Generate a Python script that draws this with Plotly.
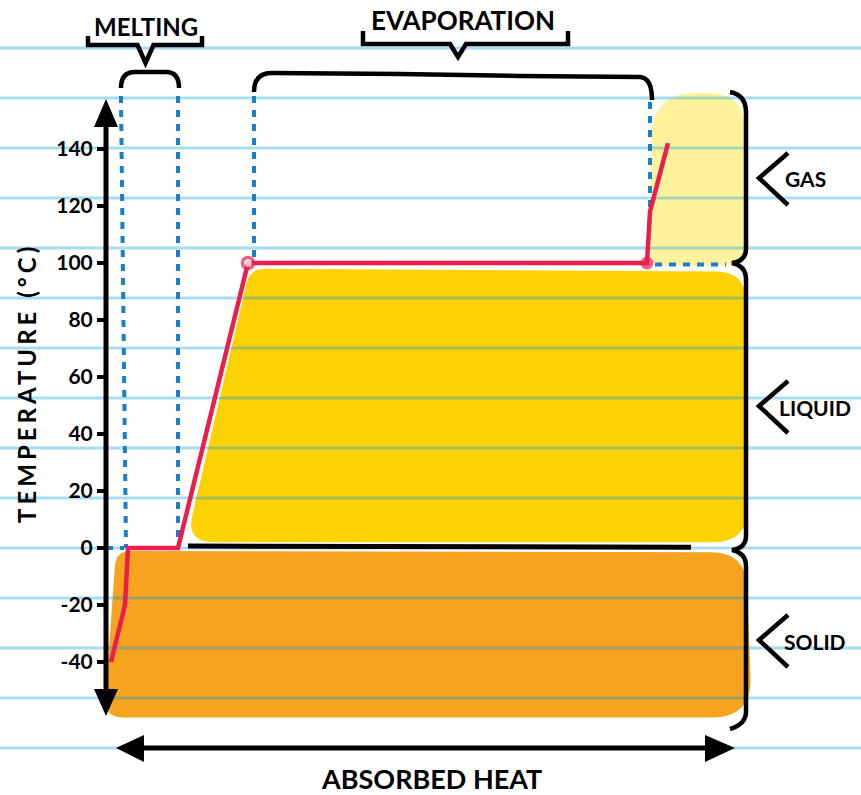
import plotly.graph_objects as go

# Heating curve of water: absorbed heat (arbitrary units) vs temperature
heat = [0, 2.8, 3.4, 13.4, 27.4, 107.2, 107.8, 111.4]
temperature = [-40, -20, 0, 0, 100, 100, 118, 142]
temp_ticks = [-40, -20, 0, 20, 40, 60, 80, 100, 120, 140]
temp_tick_text = ["-40", "-20", "0", "20", "40", "60", "80", "100", "120", "140"]
melting_heat = [2.2, 13.4]
evaporation_heat = [28.6, 107.8]
phase_names = ["GAS", "LIQUID", "SOLID"]
stage_names = ["MELTING", "EVAPORATION"]

W, H = 861, 795
X0, KX = 111.0, 5.0      # pixel of zero heat, pixels per heat unit
Y0, KY = 548.0, 2.85     # pixel of 0 °C, pixels per degree

RED = "#E91E4D"
BLUE_DOT = "#1B7EC6"
FONT = "Lato"


def hx(h):
    return X0 + KX * h


def ty(t):
    return Y0 - KY * t


def P(x, y):
    return f"{x / W:.5f},{1 - y / H:.5f}"


def polyline(pts, close=False):
    d = "M " + " L ".join(P(*p) for p in pts)
    return d + (" Z" if close else "")


def rounded(pts, radii):
    n = len(pts)
    corners = []
    for i in range(n):
        p0, p1, p2 = pts[i - 1], pts[i], pts[(i + 1) % n]
        r = radii[i]

        def toward(a, b):
            dx, dy = b[0] - a[0], b[1] - a[1]
            L = (dx * dx + dy * dy) ** 0.5
            return (a[0] + dx / L * r, a[1] + dy / L * r)

        corners.append((toward(p1, p0), p1, toward(p1, p2)))
    d = "M " + P(*corners[0][0])
    for i, (a, c, b) in enumerate(corners):
        if i:
            d += " L " + P(*a)
        d += " Q " + P(*c) + " " + P(*b)
    return d + " Z"


def paper_shape(**kw):
    kw.setdefault("xref", "paper")
    kw.setdefault("yref", "paper")
    return dict(type="path", **kw)


shapes = []

# phase colour regions
shapes.append(paper_shape(layer="below", line_width=0, fillcolor="#FEF39C",
                          path=rounded([(hx(108.2), 93), (744, 93), (746, ty(99)), (hx(107.8), ty(99))],
                                       [45, 35, 25, 15])))
shapes.append(paper_shape(layer="below", line_width=0, fillcolor="#FCD205",
                          path=rounded([(hx(27.8), ty(98)), (746, ty(97)), (748, ty(2)), (hx(15), ty(2))],
                                       [15, 30, 35, 28])))
shapes.append(paper_shape(layer="below", line_width=0, fillcolor="#F6A31F",
                          path=rounded([(hx(1), ty(-1)), (746, ty(-1.5)), (752, ty(-59.5)),
                                        (hx(-1.4), ty(-59.5))],
                                       [15, 35, 40, 20])))

# notebook ruling
for k in range(15):
    y = 48 + 50 * k
    shapes.append(dict(type="line", layer="below", xref="paper", yref="paper",
                       x0=0, x1=1, y0=1 - y / H, y1=1 - y / H,
                       line=dict(color="rgba(0,152,225,0.34)", width=3)))

# dashed guides at phase changes
dot = dict(color=BLUE_DOT, width=4, dash="7px,7px")
guides = [
    [(hx(melting_heat[0]) - 1, 96), (hx(melting_heat[0]) + 4, ty(0))],
    [(hx(melting_heat[1]), 96), (hx(melting_heat[1]), ty(1.5))],
    [(hx(evaporation_heat[0]), 96), (hx(evaporation_heat[0]), ty(102))],
    [(hx(evaporation_heat[1]), 102), (hx(evaporation_heat[1]), ty(118))],
    [(hx(-1), ty(0)), (hx(2.6), ty(0))],
    [(hx(108.8), ty(99.5)), (hx(123), ty(99.5))],
]
for g in guides:
    shapes.append(paper_shape(layer="below", path=polyline(g), line=dot))

ink = dict(color="black", width=4.5)
# axes with arrowheads
shapes.append(paper_shape(path=polyline([(106, 118), (106, 697)]), line=dict(color="black", width=5)))
shapes.append(paper_shape(fillcolor="black", line_width=0,
                          path=polyline([(106, 99), (94, 127), (118, 127)], close=True)))
shapes.append(paper_shape(fillcolor="black", line_width=0,
                          path=polyline([(106, 716), (94, 689), (118, 689)], close=True)))
shapes.append(paper_shape(path=polyline([(135, 748), (715, 748)]), line=dict(color="black", width=5)))
shapes.append(paper_shape(fillcolor="black", line_width=0,
                          path=polyline([(116, 748), (144, 735), (144, 762)], close=True)))
shapes.append(paper_shape(fillcolor="black", line_width=0,
                          path=polyline([(735, 748), (705, 735), (705, 762)], close=True)))

# solid / liquid boundary
shapes.append(paper_shape(path=polyline([(hx(15.4), ty(0.7)), (hx(116), ty(0.3))]),
                          line=dict(color="black", width=5)))

# brackets over the phase changes
m0, m1 = hx(melting_heat[0]) - 1, hx(melting_heat[1])
e0, e1 = hx(evaporation_heat[0]), hx(evaporation_heat[1]) + 2
shapes.append(paper_shape(line=ink,
                          path=f"M {P(m0, 88)} Q {P(m0, 72)} {P(m0 + 14, 72)} L {P(m1 - 12, 72)} "
                               f"Q {P(m1 + 1, 72)} {P(m1 + 1, 88)}"))
mc = (m0 + m1) / 2 - 4
shapes.append(paper_shape(line=ink,
                          path=polyline([(88, 36), (88, 45), (mc - 8, 45), (mc, 63), (mc + 8, 45),
                                         (202, 45), (202, 36)])))
shapes.append(paper_shape(line=ink,
                          path=f"M {P(e0, 92)} Q {P(e0, 73)} {P(e0 + 18, 73)} L {P(400, 74)} "
                               f"L {P(520, 76)} L {P(e1 - 12, 77)} Q {P(e1, 78)} {P(e1, 100)}"))
shapes.append(paper_shape(line=ink,
                          path=polyline([(363, 31), (363, 44), (450, 44), (458, 57), (466, 44),
                                         (568, 44), (568, 31)])))

# brace grouping the phases
bx = 746
c100, c0 = ty(100), ty(-0.7)
shapes.append(paper_shape(line=ink,
                          path=f"M {P(730, 92)} Q {P(bx, 95)} {P(bx, 112)} L {P(bx, c100 - 14)} "
                               f"Q {P(bx, c100 - 2)} {P(732, c100)} Q {P(bx, c100 + 3)} {P(bx, c100 + 16)} "
                               f"L {P(bx, c0 - 14)} Q {P(bx, c0 - 2)} {P(732, c0)} "
                               f"Q {P(bx, c0 + 3)} {P(bx, c0 + 16)} L {P(bx, 712)} "
                               f"Q {P(bx, 724)} {P(730, 729)}"))

# chevrons beside the phase names
label_y = [178, 406, 640]
for yc in label_y:
    shapes.append(paper_shape(line=ink, path=polyline([(788, yc - 25), (759, yc), (788, yc + 27)])))

fig = go.Figure()
fig.add_trace(go.Scatter(x=heat, y=temperature, mode="lines",
                         line=dict(color=RED, width=4.5), hoverinfo="skip"))
fig.add_trace(go.Scatter(x=[heat[4], heat[5]], y=[temperature[4], temperature[5]], mode="markers",
                         marker=dict(size=[11, 13], color=["white", RED], symbol="circle",
                                     line=dict(color=RED, width=[3.5, 0])),
                         hoverinfo="skip"))

ann = []
ann.append(dict(text=stage_names[0], x=146 / W, y=1 - 27 / H))
ann.append(dict(text=stage_names[1], x=463 / W, y=1 - 20 / H, size=26))
for name, yc, xl in zip(phase_names, label_y, [783, 777, 782]):
    ann.append(dict(text=name, x=xl / W, y=1 - (yc + 1) / H, xanchor="left", size=21))
annotations = []
for a in ann:
    annotations.append(dict(text=a["text"], x=a["x"], y=a["y"], xref="paper", yref="paper",
                            xanchor=a.get("xanchor", "center"), yanchor="middle", showarrow=False,
                            font=dict(family=FONT, size=a.get("size", 24), color="black",
                                      weight="bold")))
annotations.append(dict(text="ABSORBED HEAT", x=431 / W, y=1 - 778 / H, xref="paper", yref="paper",
                        showarrow=False, xanchor="center", yanchor="middle",
                        font=dict(family=FONT, size=27, color="black", weight="bold")))
annotations.append(dict(text='<span style="letter-spacing:4px">TEMPERATURE (°C)</span>',
                        x=26 / W, y=1 - 383 / H, xref="paper", yref="paper", textangle=-90,
                        showarrow=False, xanchor="center", yanchor="middle",
                        font=dict(family=FONT, size=24, color="black", weight="bold")))

fig.update_layout(
    width=W, height=H, margin=dict(l=0, r=0, t=0, b=0),
    paper_bgcolor="white", plot_bgcolor="white", showlegend=False,
    xaxis=dict(range=[(0 - X0) / KX, (W - X0) / KX], visible=False, domain=[0, 1]),
    yaxis=dict(range=[(Y0 - H) / KY, Y0 / KY], domain=[0, 1], anchor="free", position=106 / W,
               showgrid=False, zeroline=False, showline=False,
               tickvals=temp_ticks, ticktext=temp_tick_text,
               ticks="outside", ticklen=9, tickwidth=3.5, tickcolor="black",
               tickfont=dict(family=FONT, size=21, color="black", weight="bold")),
    shapes=shapes, annotations=annotations,
)

fig.write_html("out.html")
